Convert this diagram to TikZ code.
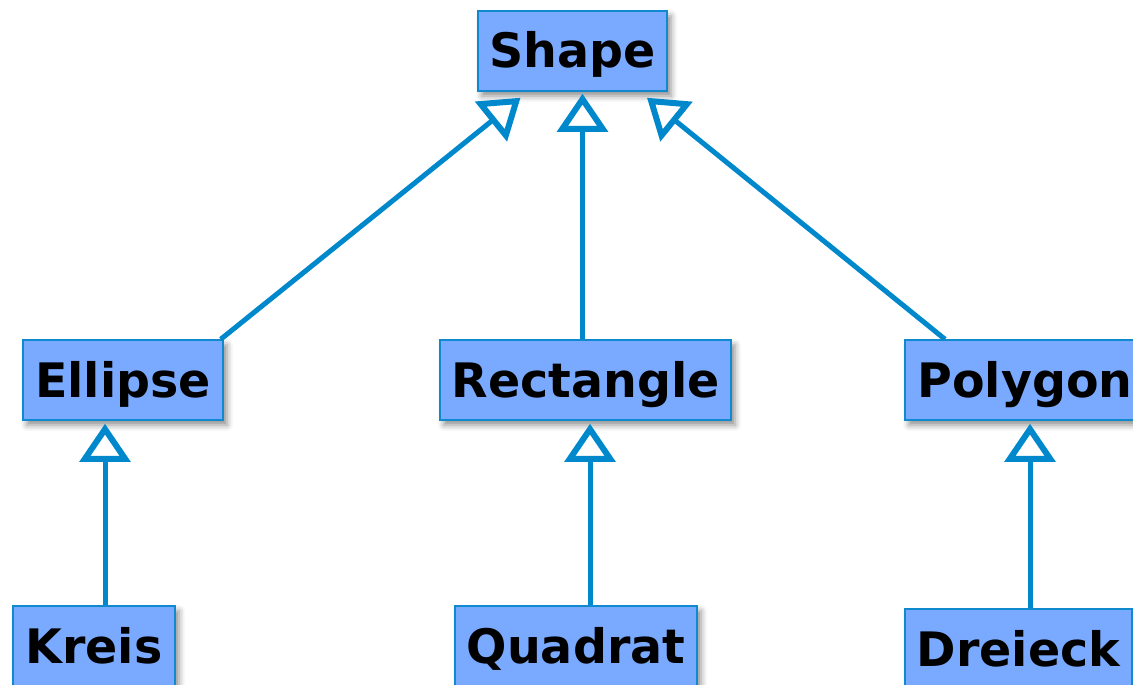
\documentclass[tikz,border=0pt]{standalone}
\usepackage{fontspec}
\setmainfont{DejaVu Sans}
\usetikzlibrary{arrows.meta,calc,shadows.blur}
\definecolor{boxfill}{HTML}{7AAAFF}
\definecolor{boxline}{HTML}{1089CF}
\definecolor{edgeblue}{HTML}{0088CC}
\tikzset{
  cls/.style={draw=boxline, line width=1.5pt, fill=boxfill, minimum height=80pt,
    inner sep=0pt, text height=34pt, text depth=0pt,
    font=\fontsize{47.5}{56}\selectfont\bfseries,
    blur shadow={shadow xshift=4pt, shadow yshift=-5pt, shadow blur radius=6pt, shadow opacity=45}},
  inh/.style={draw=edgeblue, line width=5pt,
    -{Triangle[open, length=38pt, width=50pt, line width=6pt]}}
}
\begin{document}
\begin{tikzpicture}[x=1pt,y=-1pt]
\useasboundingbox (0,0) rectangle (1133,685);
% classes
\node[cls, minimum width=189pt] (shape) at (572.5,51) {Shape};
\node[cls, minimum width=200pt] (ell) at (123,380) {Ellipse};
\node[cls, minimum width=291pt] (rect) at (585.5,380) {Rectangle};
\node[cls, minimum width=240pt] (poly) at (1025,380) {Polygon};
\node[cls, minimum width=162pt] (kreis) at (94,646) {Kreis};
\node[cls, minimum width=242pt] (quad) at (576,646) {Quadrat};
\node[cls, minimum width=227pt] (drei) at (1018.5,649) {Dreieck};
% inheritance
\draw[inh] ($(ell.north east)+(-3,0)$) -- ($(shape.south)+(-52,6)$);
\draw[inh] ($(rect.north)+(-3,0)$) -- ($(shape.south)+(10,2)$);
\draw[inh] ($(poly.north)+(-80,0)$) -- ($(shape.south)+(74.5,6)$);
\draw[inh] ($(kreis.north)+(11,0)$) -- ($(ell.south)+(-18,3)$);
\draw[inh] ($(quad.north)+(14,0)$) -- ($(rect.south)+(4.5,3)$);
\draw[inh] ($(drei.north)+(11.5,0)$) -- ($(poly.south)+(5,3)$);
\end{tikzpicture}
\end{document}
